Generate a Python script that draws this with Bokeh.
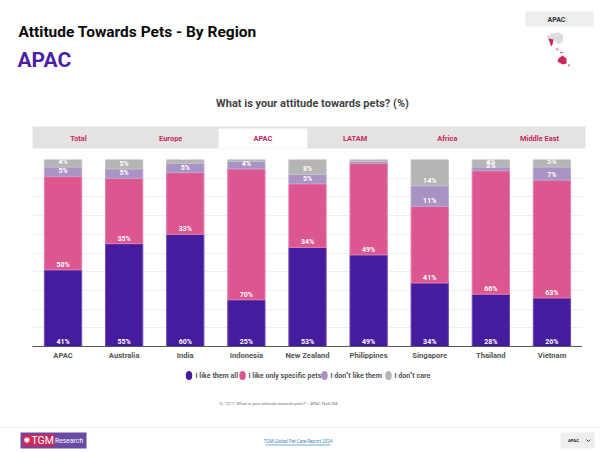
from bokeh.plotting import figure
from bokeh.layouts import column, row, Spacer
from bokeh.models import ColumnDataSource, FactorRange, Range1d
from bokeh.core.properties import value
from bokeh.embed import file_html
from bokeh.resources import INLINE
import numpy as np

countries = ["APAC", "Australia", "India", "Indonesia", "New Zealand", "Philippines", "Singapore", "Thailand", "Vietnam"]
like_all = [41, 55, 60, 25, 53, 49, 34, 28, 26]
like_specific = [50, 35, 33, 70, 34, 49, 41, 66, 63]
dont_like = [5, 5, 5, 4, 5, 1, 11, 2, 7]
dont_care = [4, 5, 2, 1, 8, 1, 14, 4, 5]
legend_labels = ["I like them all", "I like only specific pets", 'I don"t like them', "I don\"t care"]
tabs = ["Total", "Europe", "APAC", "LATAM", "Africa", "Middle East"]
series_colors = ["#461c9e", "#dc568f", "#a992c4", "#b5b5b5"]
edge_colors = ["#6d49b8", "#e77dac", "#bba8d2", "#c4c4c4"]

FONT = "Roboto"
W = 600


def blank(h, y0, y1):
    p = figure(width=W, height=h, x_range=Range1d(0, W), y_range=Range1d(y1, y0),
               output_backend="svg", toolbar_location=None, min_border=0)
    p.axis.visible = False
    p.grid.visible = False
    p.outline_line_color = None
    return p


def put(p, x, y, s, size, color, style="bold", align="left", font=FONT):
    p.text(x=[x], y=[y], text=[s], text_font=value(font), text_font_size=f"{size}px",
           text_font_style=style, text_color=color, text_align=align, text_baseline="middle")


# Header strip
head = blank(150, 0, 150)
put(head, 18, 31, "Attitude Towards Pets - By Region", 15.5, "#0a0a0a")
put(head, 17, 59, "APAC", 21, "#4a1fa6")
put(head, 312, 103, "What is your attitude towards pets? (%)", 11, "#444444", align="center")
head.quad(left=[525], right=[593], top=[11], bottom=[26], fill_color="#eeeeee", line_color=None)
put(head, 556, 19, "APAC", 7, "#333333", align="center")
head.patch([546, 552, 559, 563, 562, 558, 554, 548], [36, 33, 32, 35, 41, 44, 40, 41], fill_color="#dddddd", line_color=None)
for xs, ys in [([548, 553, 552, 550.5], [38, 39, 44, 46]),
               ([555, 558, 557], [47, 49, 50]),
               ([559, 563, 561], [51, 52, 53]),
               ([558, 562, 566, 566, 562, 557], [58, 55, 58, 63, 64, 61]),
               ([567, 570, 568], [65, 63, 66])]:
    head.patch(xs, ys, fill_color="#c92a5b", line_color=None)
head.quad(left=[32], right=[585], top=[126], bottom=[148], fill_color="#e3e3e3", line_color=None)
head.quad(left=[218], right=[307], top=[128], bottom=[148], fill_color="#ffffff", line_color=None)
for i, t in enumerate(tabs):
    put(head, 78 + 92.2 * i, 138, t, 7.4, "#c92a5b", align="center")

# Stacked chart
src = ColumnDataSource(dict(country=countries, a=like_all, b=like_specific, c=dont_like, d=dont_care))
chart = figure(width=550, height=212, x_range=FactorRange(factors=countries, range_padding=0),
               y_range=Range1d(0, 100), output_backend="svg", toolbar_location=None,
               min_border_left=0, min_border_right=0, min_border_top=9, min_border_bottom=16)
chart.vbar_stack(["a", "b", "c", "d"], x="country", width=0.61, source=src,
                 fill_color=series_colors, line_color=edge_colors, line_width=1)
stack = np.array([like_all, like_specific, dont_like, dont_care])
bases = np.vstack([np.zeros(len(countries)), np.cumsum(stack, axis=0)[:-1]])
chart.text(x=countries * 4, y=bases.flatten().tolist(),
           text=[f"{v}%" for v in stack.flatten()],
           text_font=value(FONT), text_font_size="7px", text_font_style="bold",
           text_color="#ffffff", text_align="center", text_baseline="middle", y_offset=-5)
chart.outline_line_color = None
chart.yaxis.visible = False
chart.xgrid.visible = False
chart.ygrid.ticker = list(range(10, 101, 10))
chart.ygrid.grid_line_color = "#efefef"
chart.xaxis.axis_line_color = "#555555"
chart.xaxis.axis_line_width = 1
chart.xaxis.major_tick_line_color = None
chart.xaxis.minor_tick_line_color = None
chart.xaxis.major_tick_out = 0
chart.xaxis.major_tick_in = 0
chart.xaxis.major_label_text_font = FONT
chart.xaxis.major_label_text_font_size = "7.6px"
chart.xaxis.major_label_text_font_style = "bold"
chart.xaxis.major_label_text_color = "#555555"
chart.xaxis.major_label_standoff = 4

# Legend, note, footer
foot = blank(90, 362, 452)
marker_x = [188.5, 242, 324, 388]
text_x = [195, 248, 330, 394]
foot.ellipse(x=marker_x, y=[375] * 4, width=6.5, height=9, fill_color=series_colors, line_color=None)
for x, s in zip(text_x, legend_labels):
    put(foot, x, 375, s, 7.1, "#555555")
put(foot, 278, 403, 'Q: "Q17. What is your attitude towards pets?" - APAC N=6284', 4.4, "#777777", style="normal", align="center")
foot.segment([0], [427], [600], [427], line_color="#f2f2f2", line_width=1)
foot.quad(left=[20], right=[86], top=[432], bottom=[448], fill_color="#6a4aa3", line_color=None)
foot.quad(left=[22], right=[54], top=[434], bottom=[446], fill_color="#c92a5b", line_color=None)
put(foot, 26.5, 440, "✺", 8, "#ffffff", style="normal", font="DejaVu Sans", align="center")
put(foot, 31, 440, "TGM", 10.5, "#ffffff", style="normal")
put(foot, 54.5, 440, "Research", 6.8, "#ffffff", style="normal")
put(foot, 297.5, 441, "TGM Global Pet Care Report 2024", 4.6, "#3d8bc0", style="normal", align="center")
foot.segment([265], [444.5], [330], [444.5], line_color="#3d8bc0", line_width=0.7)
foot.quad(left=[560], right=[594], top=[432], bottom=[448], fill_color="#eeeeee", line_color=None)
put(foot, 573, 440, "APAC", 4.4, "#222222", align="center")
foot.line([586, 588, 590], [439, 441, 439], line_color="#444444", line_width=1)

mid = row(Spacer(width=32, height=212), chart, Spacer(width=18, height=212), spacing=0)
page = column(head, mid, foot, spacing=0)
open("out.html", "w").write(file_html(page, INLINE))
